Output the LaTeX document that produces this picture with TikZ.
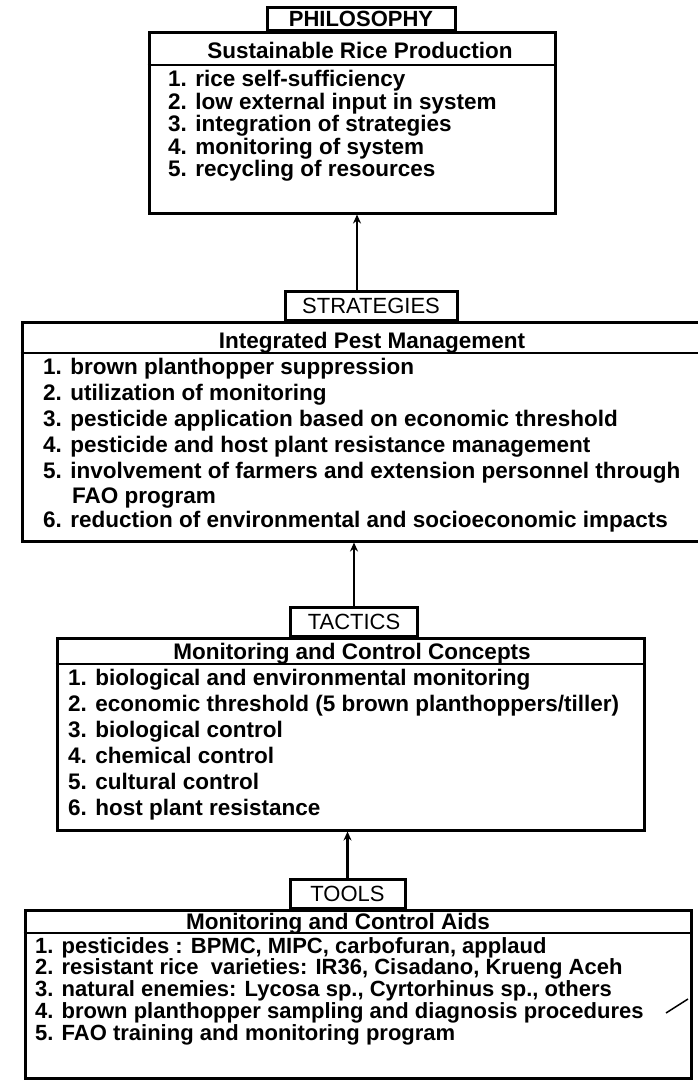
\documentclass[tikz,border=0pt]{standalone}
\usepackage{fontspec}
\setmainfont{Liberation Sans}
\usetikzlibrary{arrows.meta,positioning}
\tikzset{
    boxframe/.style={draw,line width=3pt,inner sep=0pt},
    headbox/.style={boxframe,anchor=south,fill=white,minimum height=29pt,font=\fontsize{22}{24}\selectfont},
    boxtitle/.style={inner sep=0pt,text height=16pt,text depth=0pt,font=\bfseries\fontsize{22.5}{24}\selectfont},
    listitem/.style={anchor=west,inner sep=0pt,text height=16pt,text depth=0pt,font=\bfseries\fontsize{22.5}{24}\selectfont},
    seprule/.style={line width=2.2pt},
    uparrow/.style={-{Stealth[length=9pt,width=8pt]},line width=2.6pt}
}
\begin{document}
\begin{tikzpicture}[x=1pt,y=-1pt]
\useasboundingbox (0,0) rectangle (698,1092);
\node[boxframe,minimum width=406pt,minimum height=181pt] (philbox) at (352,122.5) {};
\node[headbox,minimum width=188pt,minimum height=23pt,font=\bfseries\fontsize{22}{24}\selectfont] (philhead) at (361,32) {PHILOSOPHY};
\node[boxtitle] (philtitle) at (360,50) {Sustainable Rice Production};
\draw[seprule] (philbox.west |- 0,65) -- (philbox.east |- 0,65);
\foreach \txt [count=\i] in {1. rice self-sufficiency,2. low external input in system,3. integration of strategies,4. monitoring of system,5. recycling of resources}
  \node[listitem] (phil\i) at (168,56+22.5*\i) {\txt};

\node[boxframe,minimum width=698pt,minimum height=219pt] (stratbox) at (371,431.5) {};
\node[headbox,minimum width=172pt] (strathead) at (371,322) {STRATEGIES};
\node[boxtitle] (strattitle) at (372,340) {Integrated Pest Management};
\draw[seprule] (stratbox.west |- 0,353) -- (stratbox.east |- 0,353);
\foreach \txt [count=\i] in {1. brown planthopper suppression,2. utilization of monitoring,3. pesticide application based on economic threshold,4. pesticide and host plant resistance management,5. involvement of farmers and extension personnel through}
  \node[listitem] (strat\i) at (43,340+26*\i) {\txt};
\node[listitem] (stratfao) at (72,495) {FAO program};
\node[listitem] (strat6) at (43,519) {6. reduction of environmental and socioeconomic impacts};
\coordinate (strattop) at ([xshift=-14pt]strathead.north);
\draw[uparrow] (strattop) -- (strattop |- philbox.south);

\node[boxframe,minimum width=587pt,minimum height=192pt] (tactbox) at (350.5,734) {};
\node[headbox,minimum width=127pt] (tacthead) at (354,638) {TACTICS};
\node[boxtitle] (tacttitle) at (352,651) {Monitoring and Control Concepts};
\draw[seprule] (tactbox.west |- 0,664) -- (tactbox.east |- 0,664);
\foreach \txt [count=\i] in {1. biological and environmental monitoring,2. economic threshold (5 brown planthoppers/tiller),3. biological control,4. chemical control,5. cultural control,6. host plant resistance}
  \node[listitem] (tact\i) at (68,651+26*\i) {\txt};
\draw[uparrow] (tacthead.north) -- (tacthead.north |- stratbox.south);

\node[boxframe,minimum width=666pt,minimum height=168pt] (toolbox) at (358,994) {};
\node[headbox,minimum width=115pt] (toolhead) at (347.5,910) {TOOLS};
\node[boxtitle] (tooltitle) at (338,921) {Monitoring and Control Aids};
\draw[seprule] (toolbox.west |- 0,933) -- (toolbox.east |- 0,933);
\foreach \txt [count=\i] in {{1. pesticides : BPMC, MIPC, carbofuran, applaud},{2. resistant rice~ varieties: IR36, Cisadano, Krueng Aceh},{3. natural enemies: Lycosa sp., Cyrtorhinus sp., others},4. brown planthopper sampling and diagnosis procedures,5. FAO training and monitoring program}
  \node[listitem,font=\bfseries\fontsize{22}{22}\selectfont] (tool\i) at (35,923.3+21.8*\i) {\txt};
\draw[uparrow] (toolhead.north) -- (toolhead.north |- tactbox.south);
\draw[line width=1.5pt] (666,1013) -- (688,999);
\end{tikzpicture}
\end{document}
